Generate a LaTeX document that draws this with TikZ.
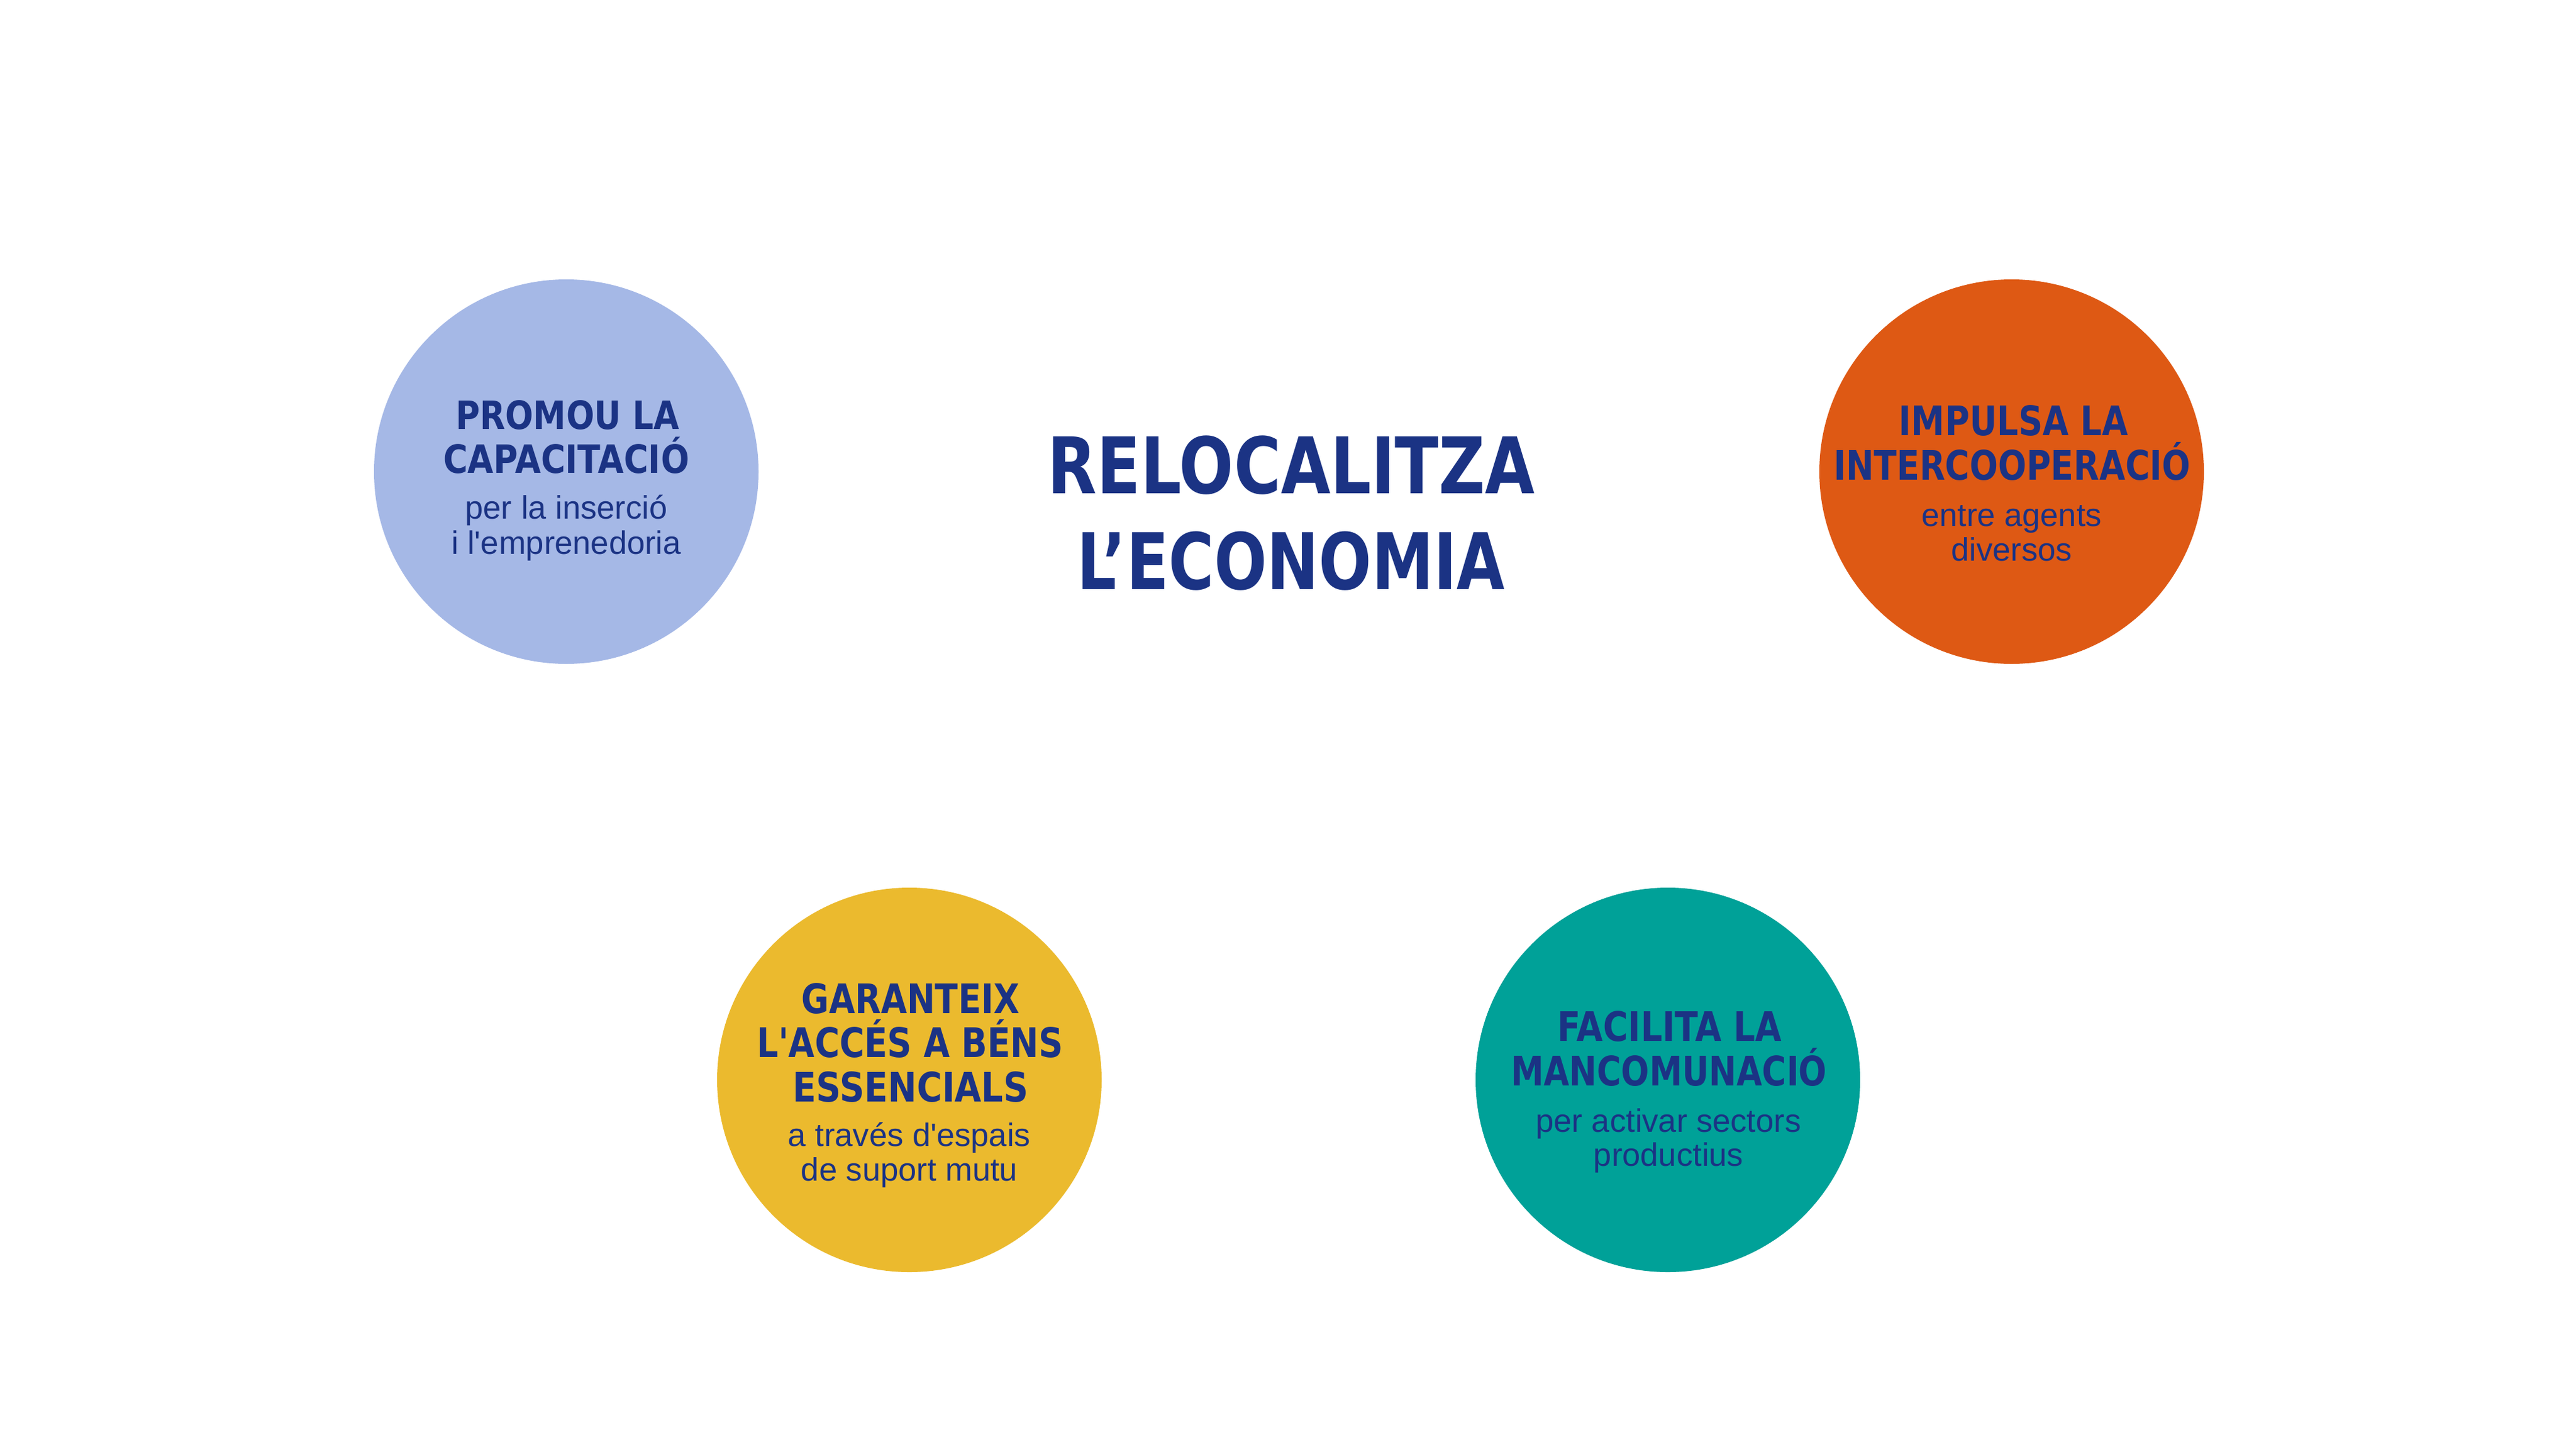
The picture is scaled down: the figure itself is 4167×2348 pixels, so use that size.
\documentclass[tikz,border=0pt]{standalone}
\usepackage{fontspec}
\usepackage{graphicx}
\newfontfamily\dinfont{DejaVu Sans}[Ligatures=TeXOff]
\newfontfamily\helvfont{Liberation Sans}[Ligatures=TeXOff]
\definecolor{navy}{HTML}{1B3384}
\definecolor{lav}{HTML}{A5B8E6}
\definecolor{orng}{HTML}{DE5914}
\definecolor{yell}{HTML}{EBBA2E}
\definecolor{teal2}{HTML}{00A198}
% #1 width, #2 cap height, #3 text
\newcommand{\fitcaps}[3]{\resizebox{#1pt}{#2pt}{\dinfont\bfseries\fontsize{50}{50}\selectfont\vphantom{H}\smash{#3}}}
\tikzset{
  disc/.style={circle, inner sep=0pt, minimum size=622pt, draw=none},
  txt/.style={anchor=base, inner sep=0pt, text=navy},
  subtxt/.style={txt, font=\helvfont\fontsize{52.5}{60}\selectfont},
}
\begin{document}
\begin{tikzpicture}[x=1pt,y=-1pt]
\useasboundingbox (0,0) rectangle (4167,2348);
\fill[white] (0,0) rectangle (4167,2348);
% circles
\node[disc, fill=lav]   (c1) at (916,763) {};
\node[disc, fill=orng]  (c2) at (3254,763) {};
\node[disc, fill=yell]  (c3) at (1471,1747) {};
\node[disc, fill=teal2] (c4) at (2698,1747) {};
% title
\node[txt] (t1) at (2089,798) {\fitcaps{788}{92}{RELOCALITZA}};
\node[txt] (t2) at (2088.5,953) {\fitcaps{691}{92}{L’ECONOMIA}};
% circle 1
\node[txt] (c1a) at (918,694.6) {\fitcaps{362}{46}{PROMOU LA}};
\node[txt] (c1b) at (916,765)   {\fitcaps{398}{46}{CAPACITACIÓ}};
\node[subtxt] (c1c) at (916,839) {per la inserció};
\node[subtxt] (c1d) at (916,896) {i l'emprenedoria};
% circle 2
\node[txt] (c2a) at (3257,704.4) {\fitcaps{371}{48}{IMPULSA LA}};
\node[txt] (c2b) at (3255,776.6) {\fitcaps{577.6}{48}{INTERCOOPERACIÓ}};
\node[subtxt] (c2c) at (3254,851.5) {entre agents};
\node[subtxt] (c2d) at (3254,907.6) {diversos};
% circle 3
\node[txt] (c3a) at (1473,1639.6) {\fitcaps{353}{48}{GARANTEIX}};
\node[txt] (c3b) at (1472,1710.4) {\fitcaps{495.5}{48}{L'ACCÉS A BÉNS}};
\node[txt] (c3c) at (1473,1782)   {\fitcaps{381}{48}{ESSENCIALS}};
\node[subtxt] (c3d) at (1471,1854) {a través d'espais};
\node[subtxt] (c3e) at (1471,1910) {de suport mutu};
% circle 4
\node[txt] (c4a) at (2700.7,1684.4) {\fitcaps{363}{48}{FACILITA LA}};
\node[txt] (c4b) at (2699.8,1756.6) {\fitcaps{511}{48}{MANCOMUNACIÓ}};
\node[subtxt] (c4c) at (2699,1831.5) {per activar sectors};
\node[subtxt] (c4d) at (2699,1886.7) {productius};
\end{tikzpicture}
\end{document}
